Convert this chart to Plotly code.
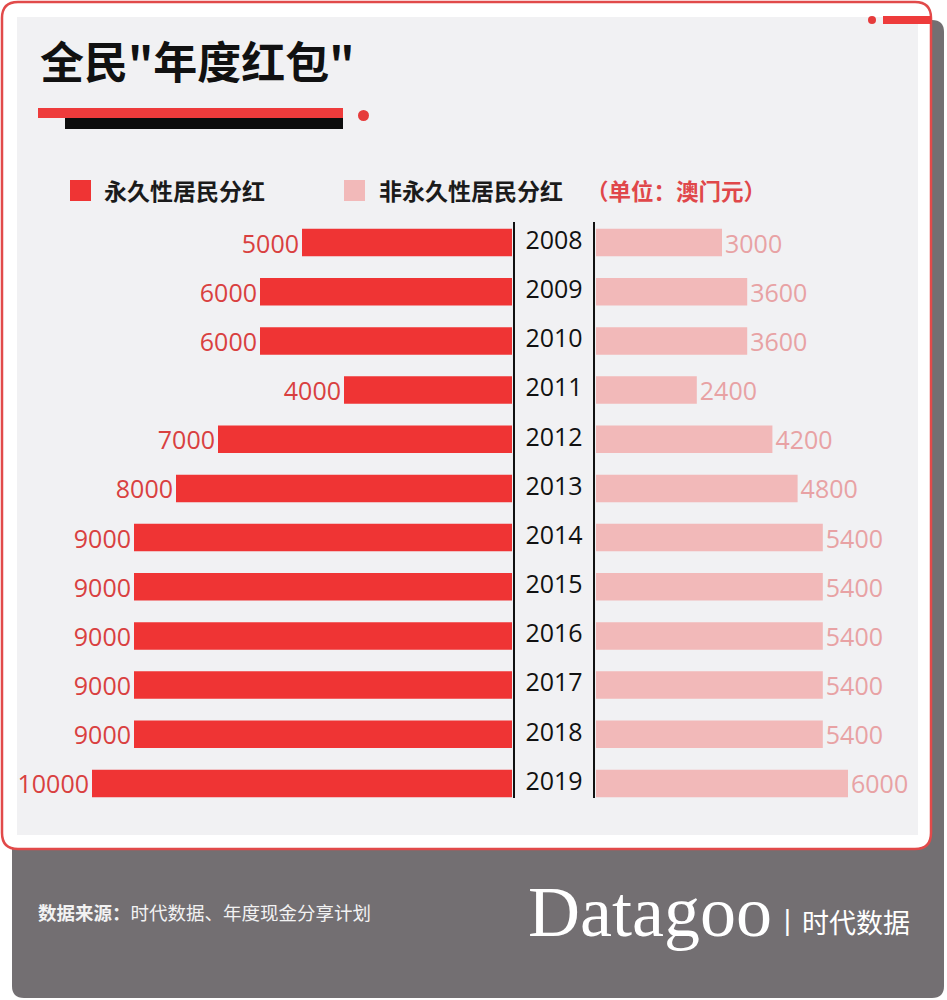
import plotly.graph_objects as go

# ---------------- data ----------------
years = ["2008", "2009", "2010", "2011", "2012", "2013", "2014", "2015", "2016", "2017", "2018", "2019"]
permanent = [5000, 6000, 6000, 4000, 7000, 8000, 9000, 9000, 9000, 9000, 9000, 10000]
non_permanent = [3000, 3600, 3600, 2400, 4200, 4800, 5400, 5400, 5400, 5400, 5400, 6000]
series_names = ["永久性居民分红", "非永久性居民分红"]
unit_label = "（单位：澳门元）"
title_text = '全民"年度红包"'
source_text = "<b>数据来源：</b>时代数据、年度现金分享计划"

W, H = 947, 1000


def X(px):
    return px / W


def Y(py):
    return 1 - py / H


def rrect(x0, y0, x1, y1, r):
    rx, ry = r / W, r / H
    a0, a1, b0, b1 = X(x0), X(x1), Y(y0), Y(y1)
    return (f"M {a0+rx},{b0} L {a1-rx},{b0} Q {a1},{b0} {a1},{b0-ry} "
            f"L {a1},{b1+ry} Q {a1},{b1} {a1-rx},{b1} L {a0+rx},{b1} "
            f"Q {a0},{b1} {a0},{b1+ry} L {a0},{b0-ry} Q {a0},{b0} {a0+rx},{b0} Z")


RED = "#ef3434"
PINK = "#f2b9b9"
RED_TXT = "#d9403f"
PINK_TXT = "#e8a2a4"
NUM_FONT = "Open Sans"

fig = go.Figure()

fig.add_trace(go.Bar(
    y=years, x=permanent, orientation="h", xaxis="x", yaxis="y",
    marker=dict(color=RED, line=dict(width=0)), width=0.56,
    text=[str(v) for v in permanent], textposition="outside",
    textfont=dict(family=NUM_FONT, size=25, color=RED_TXT),
    constraintext="none", cliponaxis=False, name=series_names[0],
    hoverinfo="x+y",
))
fig.add_trace(go.Bar(
    y=years, x=non_permanent, orientation="h", xaxis="x2", yaxis="y",
    marker=dict(color=PINK, line=dict(width=0)), width=0.56,
    text=[str(v) for v in non_permanent], textposition="outside",
    textfont=dict(family=NUM_FONT, size=25, color=PINK_TXT),
    constraintext="none", cliponaxis=False, name=series_names[1],
    hoverinfo="x+y",
))
fig.add_trace(go.Scatter(
    y=years, x=[0] * len(years), mode="text", xaxis="x3", yaxis="y",
    text=years, textposition="middle center",
    textfont=dict(family=NUM_FONT, size=25, color="#111111"),
    cliponaxis=False, hoverinfo="skip",
))

ydom = [Y(808), Y(218)]
noax = dict(showgrid=False, zeroline=False, showticklabels=False, showline=False, ticks="", fixedrange=True)

shapes = [
    # gray footer / shadow
    dict(type="path", xref="paper", yref="paper", path=rrect(12, 20, 944, 998, 12),
         fillcolor="#736f72", line=dict(width=0), layer="below"),
    # white card with red border
    dict(type="path", xref="paper", yref="paper", path=rrect(2, 2, 931, 849, 16),
         fillcolor="#ffffff", line=dict(color="#e14a4a", width=2.5), layer="below"),
    # light panel
    dict(type="rect", xref="paper", yref="paper", x0=X(17), x1=X(918), y0=Y(835), y1=Y(17),
         fillcolor="#f1f1f3", line=dict(width=0), layer="below"),
    # title underline: black then red
    dict(type="rect", xref="paper", yref="paper", x0=X(65), x1=X(343), y0=Y(129), y1=Y(114),
         fillcolor="#0d0d0d", line=dict(width=0), layer="below"),
    dict(type="rect", xref="paper", yref="paper", x0=X(38), x1=X(343), y0=Y(118), y1=Y(108),
         fillcolor="#ee3b3b", line=dict(width=0), layer="below"),
    dict(type="circle", xref="paper", yref="paper", x0=X(358), x1=X(369), y0=Y(121), y1=Y(110),
         fillcolor="#e63b3b", line=dict(width=0), layer="below"),
    # top-right accent
    dict(type="rect", xref="paper", yref="paper", x0=X(883), x1=X(931), y0=Y(24), y1=Y(16),
         fillcolor="#ee3b3b", line=dict(width=0), layer="below"),
    dict(type="circle", xref="paper", yref="paper", x0=X(868), x1=X(876), y0=Y(24), y1=Y(16),
         fillcolor="#e63b3b", line=dict(width=0), layer="below"),
    # legend swatches
    dict(type="rect", xref="paper", yref="paper", x0=X(70), x1=X(91), y0=Y(201), y1=Y(180),
         fillcolor=RED, line=dict(width=0)),
    dict(type="rect", xref="paper", yref="paper", x0=X(344), x1=X(365), y0=Y(201), y1=Y(180),
         fillcolor=PINK, line=dict(width=0)),
    # separators around year column
    dict(type="line", xref="paper", yref="paper", x0=X(514), x1=X(514), y0=Y(222), y1=Y(798),
         line=dict(color="#111111", width=2)),
    dict(type="line", xref="paper", yref="paper", x0=X(594), x1=X(594), y0=Y(222), y1=Y(798),
         line=dict(color="#111111", width=2)),
]

CJK = "Noto Sans CJK SC"
annotations = [
    dict(text=title_text, x=X(38), y=Y(60), xref="paper", yref="paper", xanchor="left", yanchor="middle",
         showarrow=False, font=dict(family=CJK, size=44, color="#111111", weight="bold")),
    dict(text=series_names[0], x=X(102), y=Y(190), xref="paper", yref="paper", xanchor="left", yanchor="middle",
         showarrow=False, font=dict(family=CJK, size=23, color="#1b1b1b", weight="bold")),
    dict(text=series_names[1], x=X(377), y=Y(190), xref="paper", yref="paper", xanchor="left", yanchor="middle",
         showarrow=False, font=dict(family=CJK, size=23, color="#1b1b1b", weight="bold")),
    dict(text=unit_label, x=X(584), y=Y(190), xref="paper", yref="paper", xanchor="left", yanchor="middle",
         showarrow=False, font=dict(family=CJK, size=22.5, color="#e0474a", weight="bold")),
    dict(text=source_text, x=X(36), y=Y(912), xref="paper", yref="paper", xanchor="left", yanchor="middle",
         showarrow=False, font=dict(family=CJK, size=18.5, color="#f2f2f2")),
    dict(text="Datagoo", x=X(526), y=Y(912), xref="paper", yref="paper", xanchor="left", yanchor="middle",
         showarrow=False, font=dict(family="Liberation Serif", size=72, color="#ffffff")),
    dict(text="|", x=X(787), y=Y(920), xref="paper", yref="paper", xanchor="center", yanchor="middle",
         showarrow=False, font=dict(family="DejaVu Sans", size=26, color="#ffffff")),
    dict(text="时代数据", x=X(800), y=Y(921), xref="paper", yref="paper", xanchor="left", yanchor="middle",
         showarrow=False, font=dict(family=CJK, size=27, color="#ffffff")),
]

fig.update_layout(
    width=W, height=H,
    margin=dict(l=0, r=0, t=0, b=0),
    paper_bgcolor="#ffffff", plot_bgcolor="rgba(0,0,0,0)",
    showlegend=False, barmode="overlay",
    xaxis=dict(domain=[X(92), X(512)], range=[10000, 0], anchor="y", **noax),
    xaxis2=dict(domain=[X(596), X(848)], range=[0, 6000], anchor="y", **noax),
    xaxis3=dict(domain=[X(514), X(594)], range=[-1, 1], anchor="y", **noax),
    yaxis=dict(domain=ydom, type="category", categoryorder="array", categoryarray=years,
               range=[11.5, -0.5], anchor="x", **noax),
    shapes=shapes, annotations=annotations,
    font=dict(family=CJK),
)

fig.write_html("out.html", config={"displayModeBar": False},
               post_script="document.body.style.margin='0';document.body.style.overflow='hidden';")
